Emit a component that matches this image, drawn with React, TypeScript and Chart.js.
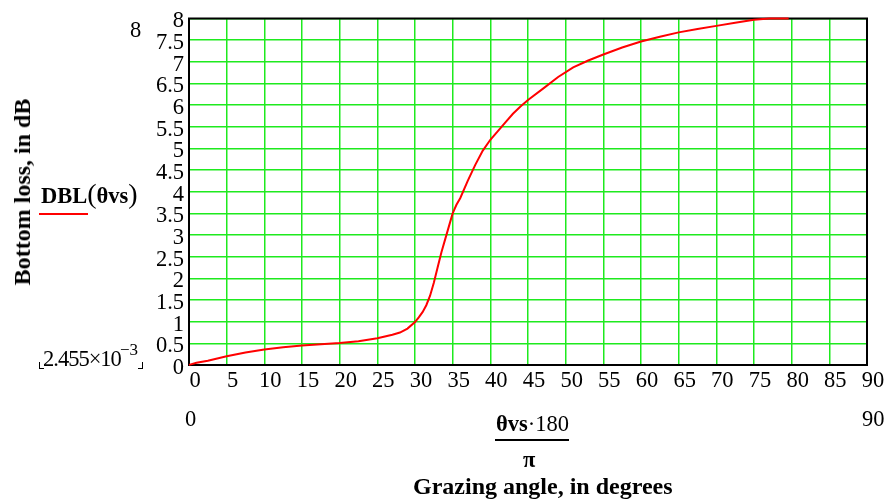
import React, { useEffect, useRef } from "react";
import { Chart, registerables } from "chart.js";

Chart.register(...registerables);

// Grazing angle (degrees) and bottom loss (dB)
const angleDeg = [0, 1, 2.5, 5, 7.5, 10, 12.5, 15, 17.5, 20, 22.5, 25, 27, 28, 29, 30, 30.5, 31, 31.5, 32, 32.5, 33, 33.5, 34, 34.5, 35, 35.5, 36, 37, 38, 39, 40, 41, 42, 43, 44, 45, 47, 49, 51, 53, 55, 57.5, 60, 62.5, 65, 67.5, 70, 72.5, 75, 77, 79.6];
const lossDb = [0.0025, 0.05, 0.1, 0.2, 0.29, 0.36, 0.41, 0.45, 0.48, 0.51, 0.55, 0.62, 0.7, 0.75, 0.84, 0.99, 1.1, 1.22, 1.38, 1.6, 1.9, 2.25, 2.6, 2.9, 3.2, 3.5, 3.7, 3.85, 4.25, 4.62, 4.95, 5.2, 5.4, 5.6, 5.8, 5.97, 6.12, 6.38, 6.65, 6.87, 7.03, 7.17, 7.33, 7.47, 7.58, 7.68, 7.76, 7.83, 7.9, 7.97, 8.0, 8.0];

const xMin = 0;
const xMax = 90;
const xStep = 5;
const yMin = 0;
const yMax = 8;
const yStep = 0.5;

const SERIF = '"Liberation Serif", "Times New Roman", serif';

const framePlugin = {
  id: "frame",
  beforeDatasetsDraw(chart: any) {
    const { ctx, chartArea } = chart;
    ctx.save();
    ctx.strokeStyle = "#000";
    ctx.lineWidth = 2;
    ctx.strokeRect(chartArea.left, chartArea.top, chartArea.right - chartArea.left, chartArea.bottom - chartArea.top);
    ctx.restore();
  },
};

export default function App() {
  const ref = useRef<HTMLCanvasElement | null>(null);

  useEffect(() => {
    if (!ref.current) return;
    const chart = new Chart(ref.current, {
      type: "line",
      data: {
        datasets: [
          {
            label: "DBL(θvs)",
            data: angleDeg.map((a, i) => ({ x: a, y: lossDb[i] })),
            borderColor: "#ff0000",
            borderWidth: 2,
            pointRadius: 0,
            tension: 0,
            fill: false,
            clip: 4,
          },
        ],
      },
      options: {
        animation: false,
        responsive: false,
        devicePixelRatio: 1,
        layout: { padding: { top: 14, right: 22, left: 0, bottom: 0 } },
        plugins: { legend: { display: false }, tooltip: { enabled: false } },
        scales: {
          x: {
            type: "linear",
            min: xMin,
            max: xMax,
            afterFit: (s: any) => {
              s.height = 137;
            },
            ticks: {
              stepSize: xStep,
              autoSkip: false,
              maxRotation: 0,
              padding: 3,
              labelOffset: 6,
              color: "#000",
              font: { family: SERIF, size: 22.5 },
              callback: (v: any) => String(Number(v)),
            },
            grid: { color: "#1eea1e", lineWidth: 1.5, drawTicks: false },
            border: { display: false },
          },
          y: {
            type: "linear",
            min: yMin,
            max: yMax,
            afterFit: (s: any) => {
              s.width = 189;
            },
            ticks: {
              stepSize: yStep,
              autoSkip: false,
              padding: 5,
              labelOffset: 3,
              color: "#000",
              font: { family: SERIF, size: 22.5 },
              callback: (v: any) => String(Number(v)),
            },
            grid: { color: "#1eea1e", lineWidth: 1.5, drawTicks: false },
            border: { display: false },
          },
        },
      },
      plugins: [framePlugin],
    } as any);
    return () => chart.destroy();
  }, []);

  const txt = (extra: React.CSSProperties): React.CSSProperties => ({
    position: "absolute",
    fontFamily: SERIF,
    fontSize: 22.5,
    lineHeight: 1,
    whiteSpace: "nowrap",
    color: "#000",
    ...extra,
  });

  return (
    <div style={{ position: "absolute", left: 0, top: 0, width: 889, height: 502, background: "#fff" }}>
      <canvas ref={ref} width={889} height={502} style={{ position: "absolute", left: 0, top: 0, width: 889, height: 502 }} />
      <div style={txt({ left: 130, top: 19 })}>8</div>
      <div style={txt({ left: 43, top: 348, letterSpacing: -1 })}>2.455×10</div>
      <div style={txt({ left: 120, top: 341, fontSize: 17 })}>−3</div>
      <div style={{ position: "absolute", left: 39, top: 362, width: 4, height: 6, borderLeft: "1px solid #000", borderBottom: "1px solid #000" }} />
      <div style={{ position: "absolute", left: 138, top: 362, width: 4, height: 6, borderRight: "1px solid #000", borderBottom: "1px solid #000" }} />
      <div
        style={txt({
          left: 22,
          top: 192,
          fontSize: 24,
          fontWeight: "bold",
          transform: "translate(-50%, -50%) rotate(-90deg)",
        })}
      >
        Bottom loss, in dB
      </div>
      <div style={txt({ left: 41, top: 180, fontSize: 22.5 })}>
        <b>DBL</b>
        <span style={{ fontSize: 28 }}>(</span>
        <b>θvs</b>
        <span style={{ fontSize: 28 }}>)</span>
      </div>
      <div style={{ position: "absolute", left: 39, top: 213, width: 49, height: 1.5, background: "#ff0000" }} />
      <div style={txt({ left: 185, top: 408 })}>0</div>
      <div style={txt({ left: 862, top: 408 })}>90</div>
      <div style={txt({ left: 496, top: 413 })}>
        <b>θvs</b>·180
      </div>
      <div style={{ position: "absolute", left: 495, top: 439, width: 74, height: 1.5, background: "#000" }} />
      <div style={txt({ left: 523, top: 449, fontWeight: "bold" })}>π</div>
      <div style={txt({ left: 413, top: 474, fontSize: 24, fontWeight: "bold" })}>Grazing angle, in degrees</div>
    </div>
  );
}
